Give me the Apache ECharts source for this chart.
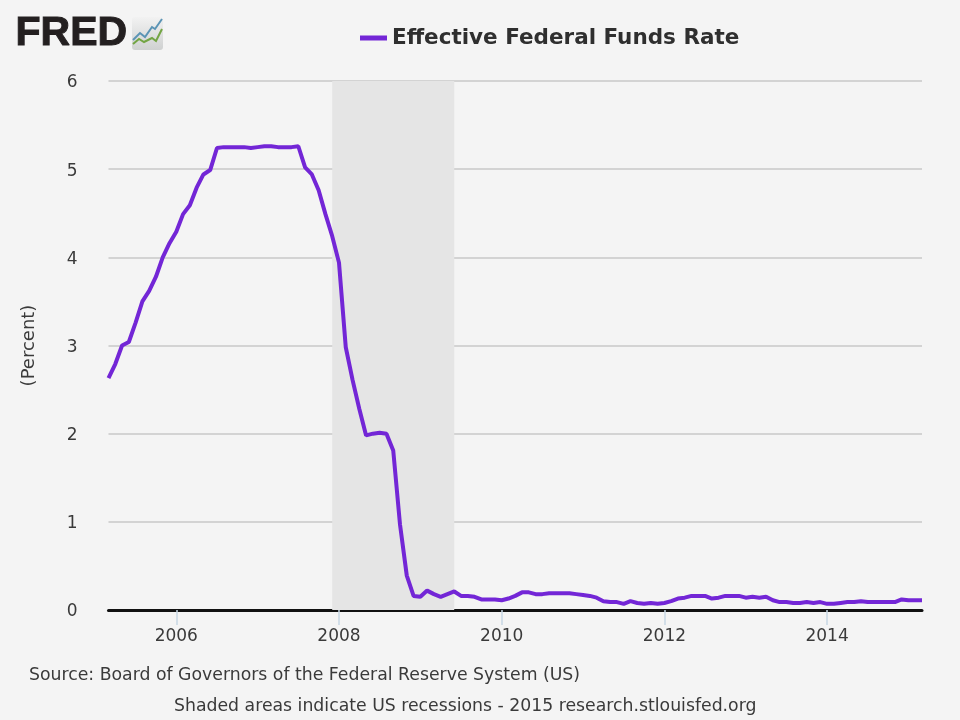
<!DOCTYPE html>
<html><head><meta charset="utf-8">
<style>html,body{margin:0;padding:0;background:#f4f4f4}#c{width:960px;height:720px}</style>
<script src="https://cdn.jsdelivr.net/npm/echarts@6/dist/echarts.min.js"></script>
</head><body><div id="c"></div>
<script>
const startYear = 2005, startMonth = 3;
const rate2005 = [2.63,2.79,3.00,3.04,3.26,3.50,3.62,3.78,4.00,4.16];
const rate2006 = [4.29,4.49,4.59,4.79,4.94,4.99,5.24,5.25,5.25,5.25,5.25,5.24];
const rate2007 = [5.25,5.26,5.26,5.25,5.25,5.25,5.26,5.02,4.94,4.76,4.49,4.24];
const rate2008 = [3.94,2.98,2.61,2.28,1.98,2.00,2.01,2.00,1.81,0.97,0.39,0.16];
const rate2009 = [0.15,0.22,0.18,0.15,0.18,0.21,0.16,0.16,0.15,0.12,0.12,0.12];
const rate2010 = [0.11,0.13,0.16,0.20,0.20,0.18,0.18,0.19,0.19,0.19,0.19,0.18];
const rate2011 = [0.17,0.16,0.14,0.10,0.09,0.09,0.07,0.10,0.08,0.07,0.08,0.07];
const rate2012 = [0.08,0.10,0.13,0.14,0.16,0.16,0.16,0.13,0.14,0.16,0.16,0.16];
const rate2013 = [0.14,0.15,0.14,0.15,0.11,0.09,0.09,0.08,0.08,0.09,0.08,0.09];
const rate2014 = [0.07,0.07,0.08,0.09,0.09,0.10,0.09,0.09,0.09,0.09,0.09,0.12];
const rate2015 = [0.11,0.11,0.11];
const values = [].concat(rate2005,rate2006,rate2007,rate2008,rate2009,rate2010,rate2011,rate2012,rate2013,rate2014,rate2015);
const months = values.map((_, i) => {
  const t = startYear*12 + startMonth-1 + i;
  return Math.floor(t/12) + '-' + String(t%12+1).padStart(2,'0');
});
const yearTicks = ['2006-01','2008-01','2010-01','2012-01','2014-01'];
const recessionStart = '2007-12', recessionEnd = '2009-06';
const seriesName = 'Effective Federal Funds Rate';
const yTicks = {min:0,max:6,interval:1};
const FONT = '"DejaVu Sans", Verdana, sans-serif';

const chart = echarts.init(document.getElementById('c'), null, {renderer:'canvas'});
chart.setOption({
  animation:false,
  backgroundColor:'#f4f4f4',
  grid:{left:108.5,right:38,top:81,bottom:110},
  legend:{
    top:22,left:355,
    data:[{name:seriesName,icon:'rect'}],
    itemWidth:27,itemHeight:5,itemGap:9,
    textStyle:{fontFamily:FONT,fontSize:21.5,fontWeight:'bold',color:'#2f2f2f'}
  },
  xAxis:{
    type:'category',boundaryGap:false,data:months,
    axisLine:{onZero:true,lineStyle:{color:'#111',width:3}},
    axisTick:{show:true,length:15,alignWithLabel:true,lineStyle:{color:'#c6d6e4',width:1.5},
      interval:(i,v)=>yearTicks.includes(v)},
    axisLabel:{interval:(i,v)=>yearTicks.includes(v),formatter:v=>v.slice(0,4),
      fontFamily:FONT,fontSize:17,color:'#3a3a3a',margin:18},
    splitLine:{show:false}
  },
  yAxis:{
    type:'value',min:yTicks.min,max:yTicks.max,interval:yTicks.interval,
    name:'(Percent)',nameLocation:'middle',nameGap:70,nameRotate:90,
    nameTextStyle:{fontFamily:FONT,fontSize:18,color:'#3a3a3a'},
    axisLine:{show:false},axisTick:{show:false},
    axisLabel:{fontFamily:FONT,fontSize:17,color:'#3a3a3a',margin:31,verticalAlign:'top',lineHeight:4},
    splitLine:{lineStyle:{color:'#c8c8c8',width:1.5}}
  },
  series:[{
    name:seriesName,type:'line',data:values,showSymbol:false,smooth:false,
    lineStyle:{color:'#7326d6',width:4},itemStyle:{color:'#7326d6'},
    markArea:{silent:true,itemStyle:{color:'#e5e5e5'},
      data:[[{xAxis:recessionStart},{xAxis:recessionEnd}]]}
  }],
  graphic:[
    {type:'text',left:15,top:13,style:{text:'FRED',fontFamily:'"Liberation Sans", Arial, sans-serif',fontSize:41,fontWeight:'bold',
      fill:'#231f20',stroke:'#231f20',lineWidth:1}},
    {type:'rect',shape:{x:132,y:17,width:31,height:33,r:3},style:{fill:new echarts.graphic.LinearGradient(0,0,0,1,[{offset:0,color:'#f2f2f2'},{offset:1,color:'#cfd1d1'}])}},
    {type:'polyline',shape:{points:[[133,40],[140,33],[145,37],[152,27],[155,29],[162,19]]},style:{fill:'none',stroke:'#5b94b5',lineWidth:2}},
    {type:'polyline',shape:{points:[[133,44],[139,39],[144,42],[152,38],[156,41],[162,29]]},style:{fill:'none',stroke:'#73a544',lineWidth:2}},
    {type:'text',left:29,top:667,style:{text:'Source: Board of Governors of the Federal Reserve System (US)',fontFamily:FONT,fontSize:17.3,fill:'#3a3a3a'}},
    {type:'text',left:174,top:698,style:{text:'Shaded areas indicate US recessions - 2015 research.stlouisfed.org',fontFamily:FONT,fontSize:17.3,fill:'#3a3a3a'}}
  ]
});
</script></body></html>
